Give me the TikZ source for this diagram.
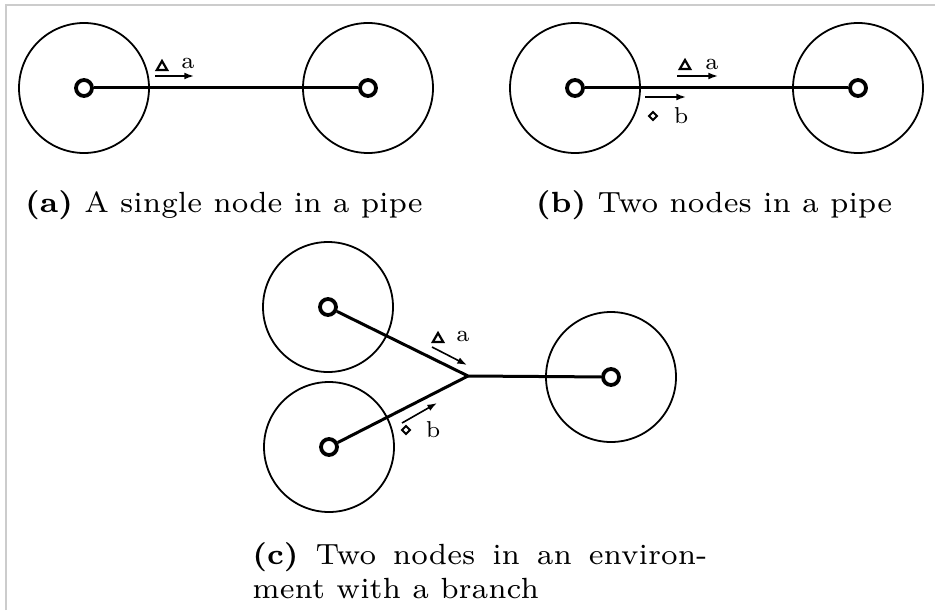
\documentclass[tikz,border=0pt]{standalone}
\usepackage{fontspec}
\setmainfont{lmroman7-regular.otf}[BoldFont=lmroman7-bold.otf]
\usetikzlibrary{arrows.meta,positioning,calc,shapes.geometric}

\begin{document}
\begin{tikzpicture}[
  x=0.5pt, y=-0.5pt,
  font=\fontsize{14.6}{17}\selectfont,
  zone/.style={circle, draw, line width=0.9pt, minimum size=65pt, inner sep=0pt},
  ring/.style={circle, draw, line width=1.9pt, minimum size=8pt, inner sep=0pt},
  pipe/.style={line width=1.5pt},
  flow/.style={-{Latex[length=4.8pt, width=3.4pt]}, line width=0.8pt},
  tri/.style={regular polygon, regular polygon sides=3, draw, line width=1.1pt, minimum size=6pt, inner sep=0pt},
  dia/.style={diamond, draw, line width=1pt, minimum size=4.4pt, inner sep=0pt},
  lab/.style={font=\fontsize{11.5}{13}\selectfont, inner sep=0pt},
  subcap/.style={anchor=base, inner sep=0pt},
]
\useasboundingbox (0,0) rectangle (935,610);

% ---------- frame ----------
\draw[black!20, line width=1pt] (6,610) -- (6,5) -- (935,5);

% ================= (a): single node in a pipe =================
\begin{scope}
  \node[ring] (An1) at (84,88) {};
  \node[ring] (An2) at (368,88) {};
  \node[zone] (Az1) at (An1) {};
  \node[zone] (Az2) at (An2) {};
  \draw[pipe] (An1) -- (An2);

  \coordinate (Aa0) at (155,76);
  \coordinate (Aa1) at (194,76);
  \draw[flow] (Aa0) -- (Aa1);
  \node[tri] (Atri) at (162,67) {};
  \node[lab] (Alab) at (188,63) {a};

  \node[subcap] (Acap) at (224,212) {\textbf{(a)} A single node in a pipe};
\end{scope}

% ================= (b): two nodes in a pipe =================
\begin{scope}
  \node[ring] (Bn1) at (575,88) {};
  \node[ring] (Bn2) at (858,88) {};
  \node[zone] (Bz1) at (Bn1) {};
  \node[zone] (Bz2) at (Bn2) {};
  \draw[pipe] (Bn1) -- (Bn2);

  \coordinate (Ba0) at (677,76);
  \coordinate (Ba1) at (718,76);
  \draw[flow] (Ba0) -- (Ba1);
  \node[tri] (Btri) at (685,66) {};
  \node[lab] (Blaba) at (712,64) {a};

  \coordinate (Bb0) at (645,97);
  \coordinate (Bb1) at (686,97);
  \draw[flow] (Bb0) -- (Bb1);
  \node[dia] (Bdia) at (653,116) {};
  \node[lab] (Blabb) at (681,116) {b};

  \node[subcap] (Bcap) at (714,212) {\textbf{(b)} Two nodes in a pipe};
\end{scope}

% ================= (c): two nodes with a branch =================
\begin{scope}
  \node[ring] (Cn1) at (328,307) {};
  \node[ring] (Cn2) at (329,447) {};
  \node[ring] (Cn3) at (611,377) {};
  \node[zone] (Cz1) at (Cn1) {};
  \node[zone] (Cz2) at (Cn2) {};
  \node[zone] (Cz3) at (Cn3) {};
  \coordinate (Cj) at (468,376);
  \draw[pipe] (Cn1) -- (Cj) -- (Cn3);
  \draw[pipe] (Cn2) -- (Cj);

  \coordinate (Ca0) at (432,347);
  \coordinate (Ca1) at (467,365);
  \draw[flow] (Ca0) -- (Ca1);
  \node[tri] (Ctri) at (438,339) {};
  \node[lab] (Claba) at (463,336) {a};

  \coordinate (Cb0) at (402,423);
  \coordinate (Cb1) at (437,403);
  \draw[flow] (Cb0) -- (Cb1);
  \node[dia] (Cdia) at (406,430) {};
  \node[lab] (Clabb) at (433,430) {b};

  \node[anchor=north west, inner sep=0pt, text width=227.5pt, align=justify] (Ccap) at (252,542)
    {\textbf{(c)} Two nodes in an environ-\linebreak ment with a branch};
\end{scope}
\end{tikzpicture}
\end{document}
